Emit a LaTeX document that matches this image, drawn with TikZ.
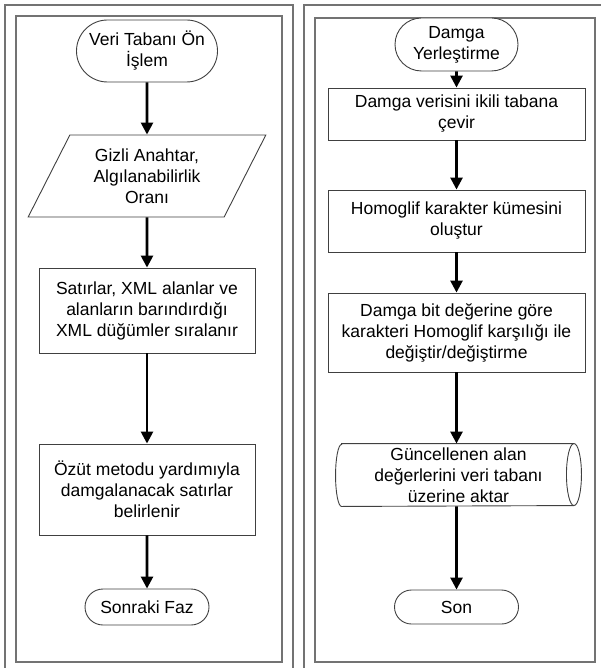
\documentclass[tikz,border=0pt]{standalone}
\usepackage{fontspec}
\setmainfont{Liberation Sans}
\usetikzlibrary{shapes.geometric,shapes.misc}
\usetikzlibrary{arrows.meta}
\tikzset{
  yazi/.style={font=\fontsize{17.5}{21}\selectfont, align=center, draw=black!75, fill=white, line width=0.9pt, inner sep=2pt},
  baslik/.style={yazi, rounded rectangle},
  kutu/.style={yazi, rectangle},
  girdi/.style={yazi, trapezium, trapezium left angle=63, trapezium right angle=117},
  depo/.style={yazi, draw=none, fill=none, rectangle},
  akis/.style={line width=2.6pt, -{Triangle[length=12pt,width=12pt]}},
  cerceve/.style={draw=black!55, line width=1.3pt}
}

\begin{document}
\begin{tikzpicture}[x=1pt,y=-1pt]
\useasboundingbox (0,0) rectangle (601,668);
\begin{scope}
\pgfmathsetmacro{\sol}{147}
\pgfmathsetmacro{\sag}{456.5}
% cerceveler
\foreach \xa/\ya/\xb/\yb in {5/5/293/675, 304/5/610/675, 16/16/282/662, 315/18/595/662}
  \draw[cerceve] (\xa,\ya) rectangle (\xb,\yb);

% sol faz
\node[baslik, minimum width=145, minimum height=62] (onislem) at (\sol,51) {Veri Tabanı Ön\\İşlem};
\node[girdi, minimum width=237, minimum height=82] (anahtar) at (\sol,176) {Gizli Anahtar,\\Algılanabilirlik\\Oranı};
\node[kutu, minimum width=216, minimum height=85] (sirala) at (\sol,310.5) {Satırlar, XML alanlar ve\\alanların barındırdığı\\XML düğümler sıralanır};
\node[kutu, minimum width=216, minimum height=91] (ozut) at (\sol,489.5) {Özüt metodu yardımıyla\\damgalanacak satırlar\\belirlenir};
\node[baslik, minimum width=128, minimum height=36] (sonraki) at (\sol,607) {Sonraki Faz};
\draw[akis] (onislem) -- (anahtar);
\draw[akis] (anahtar) -- (sirala);
\draw[akis] (sirala) -- (ozut);
\draw[akis] (ozut) -- (sonraki);

% sag faz
\node[baslik, minimum width=127, minimum height=53] (yerlestir) at (\sag,44.5) {Damga\\Yerleştirme};
\node[kutu, minimum width=257, minimum height=52] (cevir) at (\sag,114) {Damga verisini ikili tabana\\çevir};
\node[kutu, minimum width=257, minimum height=62] (kume) at (\sag,221) {Homoglif karakter kümesini\\oluştur};
\node[kutu, minimum width=257, minimum height=79] (degistir) at (\sag,332.5) {Damga bit değerine göre\\karakteri Homoglif karşılığı ile\\değiştir/değiştirme};
\node[depo, minimum width=245, minimum height=62] (aktar) at (\sag+2,475) {Güncellenen alan\\değerlerini veri tabanı\\üzerine aktar};
\draw[draw=black!75, line width=0.9pt] ([xshift=6]aktar.north west) -- ([xshift=-7.5]aktar.north east)
  arc (-90:90:7.5 and 31) -- ([xshift=6]aktar.south west) arc (90:270:6 and 31) -- cycle;
\draw[draw=black!75, line width=0.9pt] ([xshift=-7.5]aktar.north east) arc (-90:-270:7.5 and 31);
\node[baslik, minimum width=128, minimum height=34] (son) at (\sag,607) {Son};
\draw[akis] (yerlestir) -- (cevir);
\draw[akis] (cevir) -- (kume);
\draw[akis] (kume) -- (degistir);
\draw[akis] (degistir.south) -- (degistir.south |- aktar.north);
\draw[akis] (aktar.south -| son.north) -- (son);
\end{scope}
\end{tikzpicture}
\end{document}
